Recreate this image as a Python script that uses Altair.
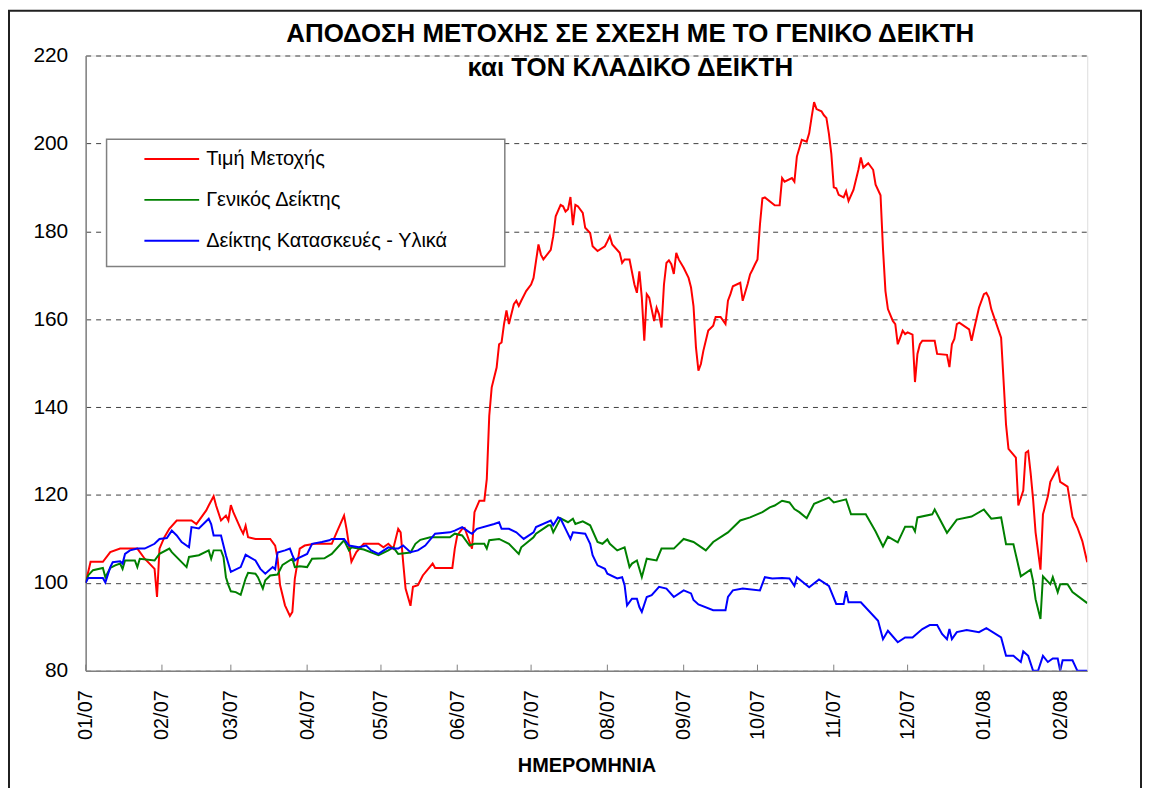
import altair as alt
import pandas as pd

FONT = "Liberation Sans, Arial, sans-serif"
START = "2007-01-01"

SERIES = ["Τιμή Μετοχής", "Γενικός Δείκτης", "Δείκτης Κατασκευές - Υλικά"]
COLORS = ["#FF0000", "#008000", "#0000FF"]

TITLE_LINES = ["ΑΠΟΔΟΣΗ ΜΕΤΟΧΗΣ ΣΕ ΣΧΕΣΗ ΜΕ ΤΟ ΓΕΝΙΚΟ ΔΕΙΚΤΗ", "και ΤΟΝ ΚΛΑΔΙΚΟ ΔΕΙΚΤΗ"]
X_TITLE = "ΗΜΕΡΟΜΗΝΙΑ"

# day numbers counted from 1 Jan 2007
red_days = [0, 2, 7, 10, 14, 21, 24, 28, 29, 30, 32, 34, 37, 43, 45, 49, 50, 52, 53, 55, 57, 58, 59, 60, 63, 64, 65, 66, 69, 75,
            77, 78, 79, 81, 83, 84, 85, 87, 89, 93, 100, 102, 105, 106, 108, 110, 113, 119, 121, 123, 125, 127, 128, 129, 130,
            132, 133, 135, 137, 141, 142, 149, 150, 151, 153, 154, 156, 157, 158, 160, 162, 163, 164, 165, 167, 168, 169, 170,
            171, 172, 174, 175, 176, 177, 179, 181, 182, 183, 184, 185, 186, 189, 190, 191, 193, 194, 195, 196, 197, 198, 199,
            200, 202, 203, 205, 206, 208, 211, 212, 213, 214, 217, 218, 219, 221, 223, 224, 225, 226, 227, 228, 229, 231, 232,
            233, 234, 235, 236, 237, 238, 239, 240, 241, 243, 245, 246, 247, 248, 249, 250, 251, 253, 255, 256, 258, 260, 261,
            262, 263, 266, 267, 269, 270, 271, 272, 273, 274, 275, 276, 280, 282, 283, 284, 287, 288, 289, 290, 291, 293, 294,
            295, 296, 297, 299, 300, 301, 302, 303, 304, 305, 306, 308, 309, 310, 312, 314, 315, 316, 318, 320, 321, 323, 324,
            325, 326, 328, 329, 330, 331, 332, 333, 334, 336, 337, 338, 339, 340, 345, 346, 350, 351, 352, 353, 354, 355, 359,
            360, 361, 363, 365, 366, 367, 368, 372, 373, 374, 375, 378, 379, 381, 382, 383, 384, 385, 386, 388, 389, 391, 392,
            395, 396, 399, 401, 403, 405, 407]
red_vals = [100, 104.8, 104.8, 107, 107.8, 107.8, 105.5, 103.2, 96.8, 107.8, 110.4, 112.3, 114.2, 114.2, 113.4, 116.5, 117.6,
            119.7, 117.6, 114.2, 115.3, 114.2, 117.7, 116.1, 112.3, 111.2, 113, 110.4, 110, 110,
            108.5, 105.5, 99.5, 94.9, 92.5, 93.4, 101, 107.8, 108.5, 108.9, 108.9, 111.5, 115.3, 112.3, 104.8, 107, 108.9, 108.9,
            108.1, 108.9, 107.8, 112.3, 111.5, 104.8, 98.7,
            94.8, 99.1, 99.5, 101.7, 104.4, 103.4, 103.4, 107.8, 110.8, 112.3, 112.5, 109.3, 107.8, 116.1, 118.7, 118.7, 123.6,
            138, 144.5, 149, 154.3, 154.7, 158.9,
            162, 158.9, 163.4, 164.2, 163, 164.2, 166.4, 167.9, 169.4, 173.2, 177, 174.7, 173.6, 175.8, 178.9, 183.4, 186, 185.7,
            184.5, 185, 187.8, 181.4, 186,
            185.7, 184.2, 180.8, 179.6, 176.6, 175.5, 176.6, 177.7, 178.9, 177, 175.1, 172.8, 173.6, 173.6, 167.9, 166, 170.9,
            164.9, 155.1, 165.7, 164.9, 159.6, 162.6,
            161.1, 158.1, 167.9, 172.8, 173.4, 172.5, 170.3, 175.1, 173.6, 171.7, 169.4, 167.2, 163, 153.6, 148.3, 149.8, 152.8,
            157.4, 158.5, 160.5, 160.5, 158.9, 164.2,
            165.7, 167.5, 168.3, 164.2, 168, 170.2, 171.3, 172.5, 173.6, 181.5, 187.5, 187.7, 185.9, 185.9, 192.1, 191.3, 192.1,
            191.3, 197, 198.9, 200.8, 200.4, 202.3,
            206, 209.4, 207.8, 207.3, 206.4, 205.8, 202.3, 197.7, 190, 189.8, 188.3, 187.7, 189.1, 186.9, 189.4, 194, 196.8,
            194.5, 195.5, 194, 190.6, 188.2, 176,
            166.4, 162.3, 159.6, 158.9, 154.3, 155.8, 157.4, 156.6, 157, 156.5, 145.7, 152.1, 154.3, 155.1, 155.1, 152.1, 151.9,
            149.1, 154.3, 155.5, 158.9, 159.2, 157.7,
            155.1, 157.7, 162.6, 165.7, 166, 164.9, 162.3, 155.8, 146, 136, 130.5, 128.5, 117.6, 121, 129.6, 130, 125, 119,
            111.5, 103, 115.6, 119.7, 123,
            126.2, 123, 121.9, 115, 112.6, 109.5, 104.7]

green_days = [0, 1, 3, 7, 8, 10, 12, 14, 15, 16, 20, 21, 22, 28, 30, 34, 35, 41, 42, 46, 50, 51, 52, 55, 56, 57, 58, 59, 61, 63,
              65, 66, 69, 70, 72, 73, 75, 78, 80, 84, 85, 87, 90, 92, 97, 100, 105, 107, 108, 113, 119, 123, 125, 127, 132,
              134, 136, 140, 148, 150, 153, 156, 158, 162, 163, 164, 168, 172, 176, 177, 182, 183, 188, 189, 190, 193, 196,
              198, 199, 202, 205, 208, 210, 212, 213, 216, 219, 221, 222, 224, 225, 226, 228, 232, 234, 239, 243, 247, 252,
              255, 261, 266, 270, 275, 278, 280, 283, 286, 288, 290, 293, 296, 302, 304, 309, 311, 317, 321, 324, 326, 330,
              333, 336, 337, 338, 344, 345, 350, 354, 360, 365, 368, 372, 374, 377, 380, 384, 385, 386, 388, 389, 392, 393,
              395, 396, 399, 401, 407]
green_vals = [100, 101.7, 102.9, 103.4, 101.3, 103.4, 104, 104.4, 103.2, 105.1, 105.1, 103.6, 105.5, 105.1, 106.6, 107.8, 107,
              103.6, 105.9, 106.3, 107.4, 105.5, 107.4, 107.4, 105.9, 101.3, 99.5, 98.1, 97.9, 97.3,
              101, 102.3, 102.1, 101.3, 98.7, 100.6, 101.7, 101.9, 104.1, 105.5, 103.6, 103.8, 103.6, 105.5, 105.6, 106.6,
              109.7, 107.4, 108.1, 107.6, 106.3, 107.4, 108.1, 106.6, 106.9,
              108.9, 109.8, 110.4, 110.4, 111.2, 110.8, 108.5, 108.9, 108.9, 107.8, 109.7, 110, 108.9, 106.6, 108.1, 110.4,
              111.2, 113.1, 113.1, 111.5, 114.7, 113.8,
              114.6, 113.4, 114, 113.1, 109.3, 108.9, 109.9, 108.9, 107.4, 108.1, 103.6, 104.4, 105.1, 103.2, 101.3, 105.5,
              105.1, 107.8, 107.8, 110, 109.3, 107.4,
              109.3, 111.5, 114.2, 114.9, 116.1, 117.2, 117.6, 118.7, 118.3, 116.8, 116.1, 114.7, 118, 119.4, 118.3, 119,
              115.6, 115.6, 111.7, 108.3, 110.5, 109.2,
              112.8, 112.8, 111.7, 114.9, 115.6, 116.7, 111.4, 114.4, 115.1, 116.7, 114.6, 114.9, 108.8, 108.8, 101.5, 103,
              100.4, 96.3, 91.8, 101.5, 99.7, 101.3,
              97.9, 99.7, 99.7, 97.9, 95.4]

blue_days = [0, 1, 7, 8, 10, 11, 14, 15, 16, 18, 21, 24, 28, 30, 33, 35, 37, 39, 42, 43, 46, 50, 51, 52, 55, 57, 59, 63, 65,
             69, 71, 73, 76, 77, 78, 81, 83, 84, 85, 86, 90, 92, 96, 99, 100, 105, 107, 111, 114, 116, 119, 123, 125, 127,
             129, 132, 135, 138, 142, 148, 150, 153, 156, 157, 159, 166, 168, 169, 172, 175, 178, 182, 183, 189, 190, 192,
             193, 195, 197, 198, 203, 205, 206, 208, 211, 212, 216, 218, 219, 220, 222, 224, 225, 226, 228, 230, 233, 236,
             239, 243, 246, 247, 249, 255, 260, 261, 263, 267, 274, 276, 279, 283, 286, 288, 289, 294, 298, 302, 305, 308,
             309, 310, 315, 322, 324, 326, 330, 333, 336, 340, 343, 346, 348, 350, 351, 352, 354, 358, 363, 366, 372, 374,
             377, 380, 381, 383, 385, 387, 389, 391, 393, 395, 396, 397, 401, 403, 407]
blue_vals = [100, 101.1, 101.1, 100.1, 103.6, 104.7, 104.9, 104.4, 106.6, 107.4, 107.8, 107.8, 108.9, 110, 110.2, 111.9, 110.8,
             109.3, 108.1, 112.7, 112.4, 114.6, 113.4, 110.8, 110.8, 106.3, 102.5, 103.6, 106.4,
             105.1, 103.2, 102.1, 103.6, 103.1, 106.9, 107.4, 107.8, 106.3, 105.1, 105.5, 106.6, 108.9, 109.3, 109.7, 110, 110,
             108.5, 108.1, 108.5, 107.4, 106.6, 108.1, 107.8, 107.8,
             108.5, 107, 107.4, 108.5, 111.2, 111.5, 111.9, 112.7, 111.5, 111.2, 112.3, 113.4, 113.8, 112.3, 112.3, 111.5, 110,
             111.5, 112.7, 114.2, 113.1, 114.9,
             114.6, 112.3, 110, 111.5, 111.2, 108.9, 106.3, 104, 103.2, 102.1, 101, 101.3, 99.5, 94.9, 96.4, 96.4, 94.5, 93.4,
             96.8, 97.2, 99.1, 98.7,
             96.8, 98.3, 97.6, 96.1, 95.1, 93.8, 93.8, 96.8, 98.3, 98.7, 98.3, 101.3, 101, 101.1, 101, 99.3, 101.3, 99, 100.8,
             99.3, 95.2, 95.2,
             98.1, 95.6, 95.6, 91.4, 87.2, 89.1, 86.5, 87.6, 87.6, 89.5, 90.4, 90.4, 88.4, 87.2, 89.5, 87.2, 88.8, 89.3, 88.8,
             89.7, 87.6, 83.4,
             83.4, 82, 84.4, 83.4, 80, 80, 83.4, 82, 82.8, 82.8, 80, 82.4, 82.4, 80, 80]

MONTHS = ["2007-01-01", "2007-02-01", "2007-03-01", "2007-04-01", "2007-05-01", "2007-06-01", "2007-07-01",
          "2007-08-01", "2007-09-01", "2007-10-01", "2007-11-01", "2007-12-01", "2008-01-01", "2008-02-01"]
Y_TICKS = [80, 100, 120, 140, 160, 180, 200, 220]


def series_frame(name, days, vals):
    return pd.DataFrame({
        "date": pd.Timestamp(START) + pd.to_timedelta(days, unit="D"),
        "value": vals,
        "series": name,
    })


df = pd.concat([
    series_frame(SERIES[0], red_days, red_vals),
    series_frame(SERIES[1], green_days, green_vals),
    series_frame(SERIES[2], blue_days, blue_vals),
], ignore_index=True)

month_df = pd.DataFrame({"date": pd.to_datetime(MONTHS)})
month_vals = [alt.DateTime(year=int(m[:4]), month=int(m[5:7]), date=1) for m in MONTHS]

x_scale = alt.Scale(domain=[alt.DateTime(year=2007, month=1, date=1), alt.DateTime(year=2008, month=2, date=12)])
y_scale = alt.Scale(domain=[80, 220], nice=False, zero=False)

x_axis = alt.Axis(values=month_vals, format="%m/%y", labelAngle=270, labelPadding=19, labelFontSize=20,
                  labelFont=FONT, labelColor="black", ticks=False, domainColor="#808080", domainWidth=1.5,
                  grid=False, title=X_TITLE, titleFontSize=20, titleFont=FONT, titleFontWeight="bold",
                  titleColor="black", titleY=101, titleBaseline="alphabetic", labelOverlap=False, labelFlush=False)
y_axis = alt.Axis(values=Y_TICKS, labelFontSize=21, labelFont=FONT, labelColor="black", labelPadding=18, ticks=False,
                  domainColor="#808080", domainWidth=1.5, grid=True, gridDash=[5, 5], gridColor="#404040",
                  gridWidth=1, title=None)

lines = alt.Chart(df).mark_line(strokeWidth=2, clip=True).encode(
    x=alt.X("date:T", scale=x_scale, axis=x_axis),
    y=alt.Y("value:Q", scale=y_scale, axis=y_axis),
    color=alt.Color("series:N", scale=alt.Scale(domain=SERIES, range=COLORS),
                    legend=alt.Legend(orient="none", legendX=58, legendY=83.5, title=None, symbolType="stroke",
                                      symbolSize=3025, symbolStrokeWidth=2, clipHeight=41, labelFontSize=20,
                                      labelFont=FONT, labelColor="black", labelOffset=6, rowPadding=0, padding=0,
                                      labelLimit=400, symbolOffset=0)),
)

ticks = alt.Chart(month_df).mark_rule(color="#808080", strokeWidth=1).encode(
    x=alt.X("date:T", scale=x_scale),
    y=alt.datum(80),
    y2=alt.datum(81.4),
)

one = alt.Data(values=[{}])
legend_box = alt.Chart(one).mark_rect(fill="white", stroke="#808080", strokeWidth=1.5).encode(
    x=alt.value(21), x2=alt.value(421), y=alt.value(84), y2=alt.value(212))

frame = alt.Chart(one).mark_rect(fillOpacity=0, stroke="#202020", strokeWidth=2).encode(
    x=alt.value(-77), x2=alt.value(1060), y=alt.value(-45), y2=alt.value(760))

title = alt.Chart(one).mark_text(text=TITLE_LINES, fontSize=26, fontWeight="bold", font=FONT, color="black",
                                 align="center", baseline="alphabetic", lineHeight=35).encode(
    x=alt.value(547), y=alt.value(-14))

chart = alt.layer(lines, ticks, legend_box, frame, title).properties(
    width=1006, height=618,
    autosize=alt.AutoSizeParams(type="none"),
    padding={"left": 78, "top": 46, "right": 56, "bottom": 116},
).configure_view(stroke=None).configure(background="white")

chart.save("out.html", embed_options={"renderer": "svg", "actions": False})
